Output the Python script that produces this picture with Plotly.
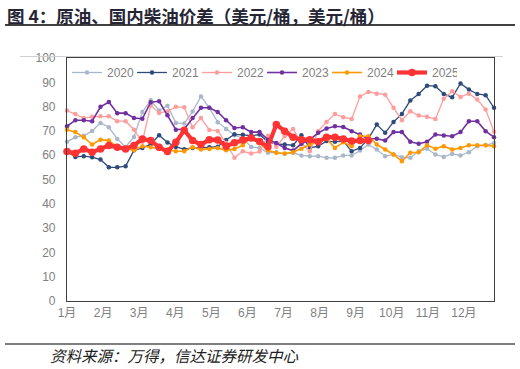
import plotly.graph_objects as go

# Weekly diesel-crude spread by year (USD/bbl)
y2020 = [65.5, 67.4, 68, 70, 73.3, 71.5, 66.7, 63.4, 67.5, 77.8, 82.6, 78.4, 80.4, 73.3, 73, 78, 84.2, 79.5,
         73.6, 70.8, 68.2, 67, 63.4, 63, 61, 61.2, 60.5, 61, 59.9, 59.6, 59.6, 58.9, 58.9, 59.9, 59.9, 61.9,
         64.4, 62.3, 59.6, 60.3, 59.2, 58.9, 61.6, 62.7, 60.3, 59.3, 60.5, 59.9, 61.2, 63.7, 64.1, 65]
y2021 = [61.5, 59.3, 59.6, 59.2, 58.2, 55, 55, 55.5, 62, 63, 64.5, 68.2, 65.2, 63.4, 62.5, 63, 63, 63.3,
         63.5, 66.3, 68.6, 68.4, 68, 68.5, 65.5, 64.7, 64.4, 64.1, 68.2, 63, 63.7, 65.8, 65.5, 65.8, 61.6, 63,
         66.8, 72.6, 69.2, 73.7, 77, 82.5, 85.2, 88.6, 88.4, 85.2, 83.8, 89.5, 87, 85.2, 84.7, 79.5]
y2022 = [78.4, 77, 75.3, 75.8, 76, 76, 74, 74, 70.5, 65.5, 80.5, 77.4, 78, 79.9, 79.7, 71.5, 75.3, 70.4,
         70, 65, 59, 61.6, 60.7, 61.5, 68, 63.5, 67.8, 70.8, 65, 61.6, 69.9, 73.7, 77, 75.6, 74.9, 84.2,
         86, 85.3, 84.9, 79.5, 74.4, 78.1, 76.3, 75.8, 74.9, 83.2, 86.3, 84, 85.3, 82.9, 78.8, 69.6]
y2023 = [71.9, 74.4, 74.4, 74, 79.9, 81.9, 77.3, 77.3, 75.3, 75, 81.8, 82.2, 76.4, 70.5, 70.8, 75.3, 79.5,
         79.5, 77.8, 74.4, 71.2, 71.5, 69.5, 69.5, 66.4, 65, 63, 61.9, 64.7, 66.4, 69.2, 71, 71.9, 71.6, 69.9,
         68.5, 66.8, 66.8, 66, 69.5, 69.5, 65.5, 64.7, 65.5, 68.5, 68.1, 67.8, 69.5, 74, 74, 69.9, 67.4]
y2024 = [70.5, 69.5, 67.4, 64.4, 66.4, 66, 63.3, 63, 62, 63.7, 63.3, 62.7, 62.3, 61.6, 61.6, 63.3, 62.3,
         62.6, 63, 62, 62.6, 64.1, 67.4, 65, 61.9, 61, 60.7, 61.2, 62.7, 64.4, 65.8, 66.8, 63, 65.3, 63.7,
         67.8, 67.8, 64.4, 62.3, 60.3, 57.5, 61, 61.2, 64.1, 62.7, 63.7, 62.3, 63, 64.1, 64.1, 64.1, 63.7]
y2025 = [61.5, 60.8, 62.6, 61.2, 62.6, 64, 63.3, 62.6, 64, 66.7, 66, 63.3, 61.5, 65.3, 70.3, 66, 64.4,
         66.4, 66.3, 63.7, 65.1, 66.3, 67.1, 65.6, 63.5, 72.6, 69.9, 67.4, 66.4, 66.4, 65.5, 67.4, 67.4,
         66.7, 65.8, 66, 66]

series_names = ["2020", "2021", "2022", "2023", "2024", "2025"]
series_values = [y2020, y2021, y2022, y2023, y2024, y2025]
month_labels = ["1月", "2月", "3月", "4月", "5月", "6月", "7月", "8月", "9月", "10月", "11月", "12月"]
weeks_per_month = 4.31

colors = ["#AAB7CB", "#2F4B7C", "#FF9C9C", "#7030A0", "#FF9900", "#FF3333"]
widths = [1.3, 1.3, 1.3, 1.6, 1.6, 4.2]
msizes = [4.5, 4.5, 4.5, 4.5, 4.5, 7.5]

fig = go.Figure()
for name, vals, c, w, ms in zip(series_names, series_values, colors, widths, msizes):
    fig.add_trace(go.Scatter(
        x=list(range(len(vals))), y=vals, name=name, mode="lines+markers",
        line=dict(color=c, width=w), marker=dict(color=c, size=ms),
        cliponaxis=False,
    ))

font_main = "Liberation Sans, Noto Sans CJK SC, sans-serif"
fig.update_layout(
    width=520, height=369,
    margin=dict(l=67, r=26, t=58, b=68),
    paper_bgcolor="white", plot_bgcolor="white",
    font=dict(family=font_main, size=12, color="#7F7F7F"),
    showlegend=True,
    legend=dict(orientation="h", x=0.0, y=1.0, xanchor="left", yanchor="top",
                bgcolor="rgba(0,0,0,0)", font=dict(size=12, color="#7F7F7F"),
                entrywidth=20, itemwidth=30, tracegroupgap=0),
    xaxis=dict(range=[0, 51], tickvals=[i * weeks_per_month for i in range(12)], ticktext=month_labels,
               showgrid=False, zeroline=False, showline=True, linecolor="#404040", linewidth=1.2,
               mirror=True, ticks="", tickfont=dict(size=12, color="#7F7F7F")),
    yaxis=dict(range=[0, 100], dtick=10, showgrid=False, zeroline=False, showline=True,
               linecolor="#404040", linewidth=1.2, mirror=True, ticks="", ticklabelstandoff=8,
               tickfont=dict(size=12, color="#7F7F7F")),
    annotations=[
        dict(text="<b>图 4：原油、国内柴油价差（美元/桶，美元/桶）</b>", xref="paper", yref="paper",
             x=-62/427, y=1 + 43/243, xanchor="left", yanchor="middle", showarrow=False,
             font=dict(family="Noto Sans CJK SC, sans-serif", size=17.5, color="#252535")),
        dict(text="<i>资料来源：万得，信达证券研发中心</i>", xref="paper", yref="paper",
             x=-19/427, y=-54/243, xanchor="left", yanchor="middle", showarrow=False,
             font=dict(family="Noto Sans CJK SC, sans-serif", size=15.5, color="#202020")),
    ],
    shapes=[
        dict(type="line", xref="paper", yref="paper", x0=-62/427, x1=448/427, y0=1 + 33/243, y1=1 + 33/243,
             line=dict(color="#000000", width=1.5)),
        dict(type="line", xref="paper", yref="paper", x0=-47/427, x1=436/427, y0=1 + 1.5/243, y1=1 + 1.5/243,
             line=dict(color="#D0D0D0", width=1)),
        dict(type="line", xref="paper", yref="paper", x0=-62/427, x1=448/427, y0=-43/243, y1=-43/243,
             line=dict(color="#000000", width=1.2)),
    ],
)

fig.write_html("out.html", config={"displayModeBar": False},
               post_script="document.body.style.margin='0';document.body.style.padding='0';"
                           "document.body.style.overflow='hidden';")
